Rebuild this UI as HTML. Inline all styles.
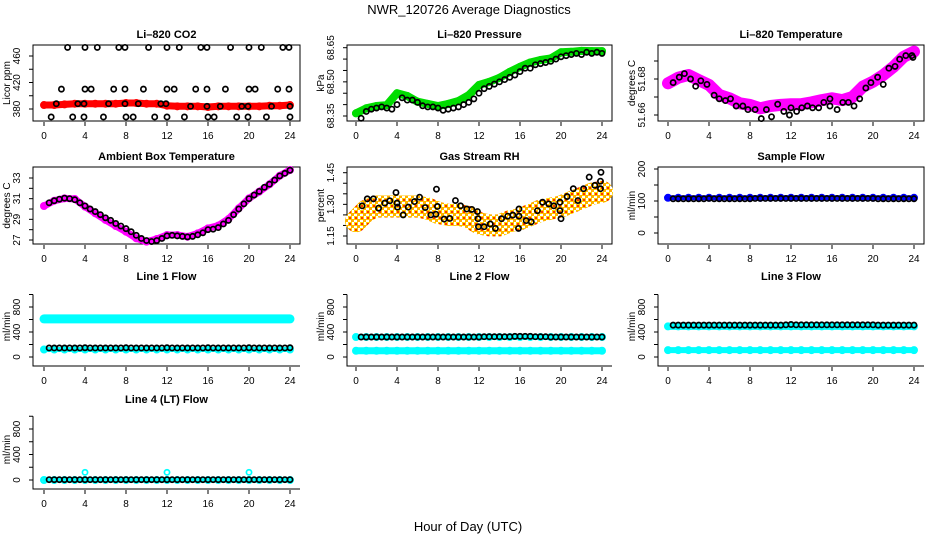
<!DOCTYPE html>
<html><head><meta charset="utf-8">
<style>
html,body{margin:0;padding:0;background:#fff;}
svg{display:block;font-family:"Liberation Sans",Arial,sans-serif;}
</style></head>
<body>
<svg id="chart" width="936" height="540" viewBox="0 0 936 540" xmlns="http://www.w3.org/2000/svg">
<defs>
<pattern id="rhPat" width="6" height="6" patternUnits="userSpaceOnUse">
<rect width="6" height="6" fill="#fff"/><rect width="4" height="4" fill="#ffd000"/><rect x="1" y="1" width="2" height="2" fill="#ff3000"/><rect x="3" y="3" width="3" height="3" fill="#ffb000"/>
</pattern>
</defs>
<text x="469" y="14" font-size="13" text-anchor="middle">NWR_120726  Average Diagnostics</text>
<text x="468" y="531" font-size="13" text-anchor="middle">Hour of Day (UTC)</text>
</svg>
<script>
// ---- data ----
const hourly = [0,1,2,3,4,5,6,7,8,9,10,11,12,13,14,15,16,17,18,19,20,21,22,23,24];
const halfHours = [0.5,1,1.5,2,2.5,3,3.5,4,4.5,5,5.5,6,6.5,7,7.5,8,8.5,9,9.5,10,10.5,11,11.5,12,12.5,13,13.5,14,14.5,15,15.5,16,16.5,17,17.5,18,18.5,19,19.5,20,20.5,21,21.5,22,22.5,23,23.5,24];
const xTicks = [0,4,8,12,16,20,24];

const co2Band = [386,386,387,388,388,388,388,388,389,389,388,388,385,384,384,384,383,384,384,384,384,384,385,385,386];
const co2PtHours = [2.3,4.0,5.2,7.3,7.9,10.2,12.0,13.2,15.3,15.9,18.2,20.0,21.2,23.3,23.9, 1.7,4.0,4.6,6.8,7.9,9.7,12.0,12.7,14.8,15.9,17.7,20.0,20.6,22.8,23.9, 1.2,3.3,3.9,6.3,7.9,9.2,11.4,11.9,14.3,15.9,17.2,19.3,19.9,22.2,24.0, 0.7,2.8,3.9,5.8,8.0,8.7,10.8,12.0,13.7,16.0,16.6,18.8,19.9,21.7,24.0];
const co2PtVals = [473,473,473,473,473,473,473,473,473,473,473,473,473,473,473, 410,410,410,410,410,410,410,410,410,410,410,410,410,410,410, 388,388,388,388,388,388,388,388,384,384,384,384,384,384,384, 368,368,368,368,368,368,368,368,368,368,368,368,368,368,368];

const presBand = [68.362,68.384,68.394,68.398,68.45,68.438,68.413,68.403,68.394,68.403,68.416,68.442,68.486,68.50,68.518,68.544,68.566,68.585,68.596,68.603,68.63,68.632,68.636,68.635,68.635];
const presPts = [68.34,68.37,68.38,68.385,68.39,68.385,68.38,68.40,68.43,68.42,68.42,68.41,68.395,68.39,68.39,68.385,68.375,68.38,68.385,68.39,68.40,68.41,68.425,68.45,68.47,68.48,68.49,68.50,68.51,68.52,68.53,68.545,68.56,68.56,68.575,68.58,68.585,68.59,68.60,68.61,68.615,68.62,68.625,68.62,68.63,68.625,68.63,68.625];

const ltempBand = [51.6776,51.6807,51.6822,51.6794,51.6767,51.6711,51.6693,51.6665,51.6656,51.6637,51.665,51.6656,51.666,51.666,51.667,51.6683,51.6693,51.6683,51.670,51.6757,51.6785,51.6822,51.6868,51.6924,51.6952];
const ltempPtHours = [0.5,1.1,1.6,2.2,2.7,3.2,3.8,4.5,5.0,5.6,6.1,6.65,7.3,7.8,8.5,9.1,9.6,10.1,10.7,11.3,11.85,12.0,12.55,13.05,13.6,14.1,14.7,15.2,15.8,15.8,16.5,17.05,17.6,18.15,18.7,19.3,19.8,20.45,21.0,21.55,22.15,22.6,23.2,23.8,23.9];
const ltempPtVals = [51.678,51.681,51.683,51.680,51.676,51.679,51.677,51.671,51.669,51.668,51.669,51.665,51.665,51.663,51.663,51.658,51.663,51.659,51.666,51.662,51.660,51.664,51.662,51.664,51.665,51.664,51.664,51.667,51.665,51.669,51.663,51.667,51.667,51.665,51.669,51.675,51.678,51.681,51.677,51.686,51.687,51.691,51.693,51.693,51.692];

const ambBand = [30.29,30.8,31.03,30.97,30.23,29.58,28.94,28.35,27.8,27.16,26.84,27.1,27.48,27.48,27.32,27.64,28.13,28.39,29.03,30.07,31.03,31.68,32.39,33.22,33.77];
const ambPts = [30.6,30.8,30.95,31.05,31.0,30.9,30.6,30.3,30.0,29.75,29.45,29.15,28.9,28.6,28.35,28.1,27.8,27.45,27.15,26.95,26.85,26.95,27.15,27.4,27.45,27.4,27.35,27.3,27.35,27.5,27.7,28.0,28.05,28.2,28.55,28.9,29.45,30.0,30.5,31.0,31.35,31.7,32.1,32.4,32.8,33.2,33.45,33.75];

const rhBand = [1.22,1.27,1.29,1.29,1.29,1.29,1.29,1.28,1.26,1.25,1.25,1.24,1.21,1.20,1.20,1.22,1.23,1.25,1.27,1.28,1.29,1.31,1.33,1.35,1.36];
const rhPtHours = [0.6,1.1,1.7,2.2,2.8,3.3,3.9,4.0,4.05,4.6,5.1,5.7,6.2,6.75,7.3,7.8,7.85,7.95,8.6,9.15,9.7,10.2,10.8,11.3,11.85,11.9,11.95,12.5,13.1,13.6,14.2,14.8,15.3,15.9,15.9,15.85,16.6,17.1,17.7,18.2,18.8,19.3,19.9,19.9,20.0,20.6,21.2,21.65,22.2,22.75,23.3,23.85,23.9,23.85];
const rhPtVals = [1.293,1.326,1.326,1.282,1.306,1.317,1.356,1.306,1.287,1.25,1.287,1.313,1.334,1.285,1.25,1.253,1.372,1.29,1.23,1.233,1.318,1.293,1.278,1.276,1.266,1.232,1.194,1.194,1.207,1.186,1.232,1.244,1.249,1.278,1.244,1.186,1.223,1.217,1.27,1.31,1.302,1.293,1.31,1.27,1.232,1.337,1.374,1.318,1.374,1.429,1.39,1.41,1.452,1.374];

const sampleBand = [110,110,110,110,110,110,110,110,110,110,110,110,110,110,110,110,110,110,110,110,110,110,110,110,110];
const samplePts = [107,107,107,107,107,107,107,108,107,107,107,107,107,107,107,107,108,108,108,108,108,108,108,108,108,108,108,108,108,108,108,108,108,108,108,108,108,108,108,108,107,107,107,107,107,107,107,107];

const line1Upper = [610,610,610,610,610,610,610,610,610,610,610,610,610,610,610,610,610,610,610,610,610,610,610,610,610];
const line1Lower = [120,120,120,120,120,120,120,120,120,120,120,120,120,120,120,120,120,120,120,120,120,120,120,120,120];
const line1Pts = [145,145,145,145,145,145,145,148,145,145,145,145,145,145,145,148,145,145,145,145,145,145,145,148,145,145,145,145,145,145,145,148,145,145,145,145,145,145,145,148,145,145,145,145,145,145,145,148];

const line2Upper = [320,320,320,320,320,320,320,320,320,320,320,320,320,320,320,320,320,320,320,320,320,320,320,320,320];
const line2Lower = [100,100,100,100,100,100,100,100,100,100,100,100,100,100,100,100,100,100,100,100,100,100,100,100,100];
const line2Pts = [320,320,320,320,320,320,320,320,320,320,320,320,320,320,320,320,320,320,320,320,320,320,320,320,325,325,325,325,325,325,330,330,330,330,325,325,325,320,320,320,320,320,320,320,320,320,320,320];

const line3Upper = [490,490,490,490,490,490,490,490,490,490,490,490,490,490,490,490,490,490,490,490,490,490,490,490,490];
const line3Lower = [110,110,110,110,110,110,110,110,110,110,110,110,110,110,110,110,110,110,110,110,110,110,110,110,110];
const line3Pts = [510,510,510,510,510,510,510,510,510,510,510,510,510,510,510,510,510,510,510,510,510,510,515,520,515,515,515,515,515,515,515,515,515,515,515,515,515,515,515,515,510,510,510,510,510,510,510,510];

const line4Band = [0,0,0,0,0,0,0,0,0,0,0,0,0,0,0,0,0,0,0,0,0,0,0,0,0];
const line4OutHours = [4,12,20];
const line4OutVals = [120,120,120];
const line4Pts = [5,5,5,5,5,5,5,5,5,5,5,5,5,5,5,5,5,5,5,5,5,5,5,5,5,5,5,5,5,5,5,5,5,5,5,5,5,5,5,5,5,5,5,5,5,5,5,5];

const co2Ticks = [380,400,420,440,460], co2Labels = [380,420,460];
const presTicks = [68.35,68.40,68.45,68.50,68.55,68.60,68.65], presLabels = ["68.35","68.50","68.65"];
const ltempTicks = [51.66,51.67,51.68,51.69], ltempLabels = ["51.66","51.68"];
const ambTicks = [27,28,29,30,31,32,33], ambLabels = [27,29,31,33];
const rhTicks = [1.15,1.20,1.25,1.30,1.35,1.40,1.45], rhLabels = ["1.15","1.30","1.45"];
const sampleTicks = [0,50,100,150,200], sampleLabels = [0,100,200];
const flowTicks = [0,200,400,600,800,1000], flowLabels = [0,400,800];

// ---- drawing ----
const svg = document.getElementById('chart');
const NS = 'http://www.w3.org/2000/svg';
function mk(tag, attrs, parent){
  const e = document.createElementNS(NS, tag);
  for (const k in attrs) e.setAttribute(k, attrs[k]);
  (parent||svg).appendChild(e);
  return e;
}
const cols = [{l:33,r:300,x0:44,x24:290},{l:347,r:612,x0:356,x24:602},{l:658,r:924,x0:668,x24:914}];
const rows = [{t:45,b:121,box:true},{t:167,b:244,box:true},{t:287,b:366,box:false},{t:410,b:489,box:false}];

function makePanel(id, title, ylab, ci, ri, vA, pA, vB, pB, ticks, labels){
  const c = cols[ci], r = rows[ri];
  const g = mk('g', {});
  
  
  const xs = h => c.x0 + (h/24)*(c.x24 - c.x0);
  const ys = v => pA + (v - vA)*(pB - pA)/(vB - vA);
  if (r.box) {
    const b = mk('rect', {x:c.l, y:r.t, width:c.r-c.l, height:r.b-r.t, fill:'none', stroke:'#000', 'stroke-width':1}, g);
    
    
  } else {
    const b = mk('path', {d:`M${c.l},${ys(ticks[ticks.length-1])}V${r.b}H${c.r}`, fill:'none', stroke:'#000', 'stroke-width':1}, g);
    
    
  }
  const tt = mk('text', {x:(c.l+c.r)/2, y:r.t-7, 'font-size':11, 'font-weight':'bold', 'text-anchor':'middle'}, g);
  tt.textContent = title;
  
  
  const yl = mk('text', {transform:`translate(${c.l-23},${(r.t+r.b)/2}) rotate(-90)`, 'font-size':10, 'text-anchor':'middle'}, g);
  yl.textContent = ylab;
  
  
  ticks.forEach(v => {
    const t = mk('line', {x1:c.l-4, x2:c.l, y1:ys(v), y2:ys(v), stroke:'#000'}, g);
    
    
  });
  labels.forEach(v => {
    const t = mk('text', {transform:`translate(${c.l-13},${ys(+v)}) rotate(-90)`, 'font-size':10, 'text-anchor':'middle'}, g);
    t.textContent = String(v);
    
    
  });
  xTicks.forEach(h => {
    const t = mk('line', {x1:xs(h), x2:xs(h), y1:r.b+1, y2:r.b+5, stroke:'#000'}, g);
    
    
    const l = mk('text', {x:xs(h), y:r.b+18, 'font-size':10, 'text-anchor':'middle'}, g);
    l.textContent = String(h);
    
    
  });
  return {g, xs, ys};
}
function band(p, name, hours, vals, color, width){
  const d = hours.map((h,i) => (i?'L':'M') + p.xs(h).toFixed(1) + ',' + p.ys(vals[i]).toFixed(1)).join('');
  const e = mk('path', {d, fill:'none', stroke:color, 'stroke-width':width, 'stroke-linejoin':'round', 'stroke-linecap':'round'}, p.g);
  
  
  hours.forEach((h,i) => {
    const c = mk('circle', {cx:p.xs(h), cy:p.ys(vals[i]), r:3, fill:'none', stroke:color, 'stroke-width':2}, p.g);
    
    
  });
}
function points(p, name, hours, vals, color){
  hours.forEach((h,i) => {
    const c = mk('circle', {cx:p.xs(h), cy:p.ys(vals[i]), r:2.6, fill:'none', stroke:color||'#000', 'stroke-width':1.7}, p.g);
    
    
  });
}

let p;
p = makePanel('co2','Li\u2013820 CO2','Licor ppm',0,0,460,56,380,109,co2Ticks,co2Labels);
band(p,'co2-band',hourly,co2Band,'#ff0000',7);
points(p,'co2-average-point',co2PtHours,co2PtVals);

p = makePanel('pressure','Li\u2013820 Pressure','kPa',1,0,68.65,47.7,68.35,116,presTicks,presLabels);
band(p,'pressure-band',hourly,presBand,'#00dd00',8);
points(p,'pressure-average-point',halfHours,presPts);

p = makePanel('licor-temp','Li\u2013820 Temperature','degrees C',2,0,51.68,79,51.66,115,ltempTicks,ltempLabels);
band(p,'licor-temp-band',hourly,ltempBand,'#ff00ff',12);
points(p,'licor-temp-average-point',ltempPtHours,ltempPtVals);

p = makePanel('ambient','Ambient Box Temperature','degrees C',0,1,33,178,27,240,ambTicks,ambLabels);
band(p,'ambient-band',hourly,ambBand,'#ff00ff',7);
points(p,'ambient-average-point',halfHours,ambPts);

p = makePanel('rh','Gas Stream RH','percent',1,1,1.45,172.7,1.15,236,rhTicks,rhLabels);
band(p,'rh-band',hourly,rhBand,'url(#rhPat)',22);
points(p,'rh-average-point',rhPtHours,rhPtVals);

p = makePanel('sample-flow','Sample Flow','ml/min',2,1,200,169,0,233,sampleTicks,sampleLabels);
band(p,'sample-flow-band',hourly,sampleBand,'#0000ff',5);
points(p,'sample-flow-average-point',halfHours,samplePts);

p = makePanel('line1','Line 1 Flow','ml/min',0,2,800,307,0,357,flowTicks,flowLabels);
band(p,'line1-upper-band',hourly,line1Upper,'#00ffff',9);
band(p,'line1-lower-band',hourly,line1Lower,'#00ffff',5);
points(p,'line1-average-point',halfHours,line1Pts);

p = makePanel('line2','Line 2 Flow','ml/min',1,2,800,307,0,357,flowTicks,flowLabels);
band(p,'line2-upper-band',hourly,line2Upper,'#00ffff',6);
band(p,'line2-lower-band',hourly,line2Lower,'#00ffff',7);
points(p,'line2-average-point',halfHours,line2Pts);

p = makePanel('line3','Line 3 Flow','ml/min',2,2,800,307,0,357,flowTicks,flowLabels);
band(p,'line3-upper-band',hourly,line3Upper,'#00ffff',7);
band(p,'line3-lower-band',hourly,line3Lower,'#00ffff',6);
points(p,'line3-average-point',halfHours,line3Pts);

p = makePanel('line4','Line 4 (LT) Flow','ml/min',0,3,800,429,0,480,flowTicks,flowLabels);
band(p,'line4-band',hourly,line4Band,'#00ffff',4);
points(p,'line4-outlier-point',line4OutHours,line4OutVals,'#00ffff');
points(p,'line4-average-point',halfHours,line4Pts);
</script>
</body></html>
